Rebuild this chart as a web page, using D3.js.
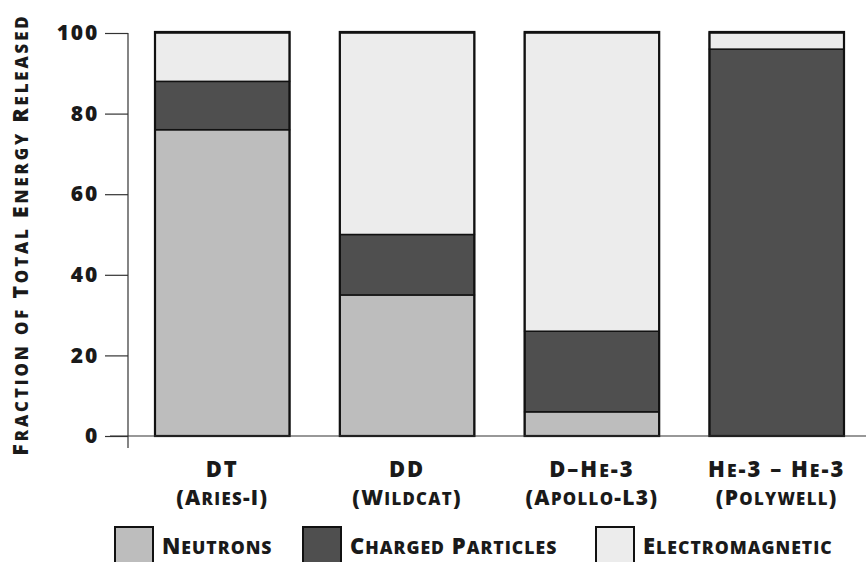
<!DOCTYPE html>
<html>
<head>
<meta charset="utf-8">
<script src="https://cdn.jsdelivr.net/npm/d3@7"></script>
<style>
  body { margin: 0; background: #fff; }
  text { font-family: "Open Sans", Lato, sans-serif; font-weight: 800; fill: #1a1a1a; }
</style>
</head>
<body>
<svg id="chart"></svg>
<script>
const categories = ["DT", "DD", "D\u2013He-3", "He-3 \u2013 He-3"];
const subLabels = ["(Aries-I)", "(Wildcat)", "(Apollo-L3)", "(Polywell)"];
const neutrons = [76, 35, 6, 0];
const charged = [12, 15, 20, 96];
const electromagnetic = [12, 50, 74, 4];
const seriesNames = ["Neutrons", "Charged Particles", "Electromagnetic"];
const yTicks = [0, 20, 40, 60, 80, 100];

const width = 866;
const height = 562;
const color = d3.scaleOrdinal(seriesNames, ["#bdbdbd", "#4f4f4f", "#ececec"]);

const svg = d3.select("#chart")
    .attr("width", width)
    .attr("height", height);

// draw text as small caps: lowercase runs become smaller capitals
function smallCaps(sel, str, size, ratio) {
    const runs = str.match(/[a-z]+|[^a-z]+/g) || [];
    sel.selectAll("tspan")
        .data(runs)
        .enter().append("tspan")
        .style("font-size", d => (/[a-z]/.test(d) ? size * ratio : size) + "px")
        .text(d => d.toUpperCase());
}

const x = d3.scaleBand()
    .domain(categories)
    .range([155, 844])
    .paddingInner(0.272)
    .paddingOuter(0);

const y = d3.scaleLinear()
    .domain([0, 100])
    .range([436, 33]);

const rows = categories.map((c, i) => ({
    cat: c,
    "Neutrons": neutrons[i],
    "Charged Particles": charged[i],
    "Electromagnetic": electromagnetic[i]
}));

const stacked = d3.stack().keys(seriesNames)(rows);

// bars
svg.append("g")
    .selectAll("g")
    .data(stacked)
    .enter().append("g")
    .attr("fill", d => color(d.key))
    .selectAll("rect")
    .data(d => d.filter(s => s[1] - s[0] > 0))
    .enter().append("rect")
    .attr("x", d => x(d.data.cat))
    .attr("y", d => y(d[1]))
    .attr("width", x.bandwidth())
    .attr("height", d => y(d[0]) - y(d[1]))
    .attr("stroke", "#111")
    .attr("stroke-width", 1.5);

// bar outlines
svg.append("g")
    .selectAll("rect")
    .data(categories)
    .enter().append("rect")
    .attr("x", d => x(d))
    .attr("y", y(100) - 1)
    .attr("width", x.bandwidth())
    .attr("height", y(0) - y(100) + 1)
    .attr("fill", "none")
    .attr("stroke", "#111")
    .attr("stroke-width", 2.2);

// y axis
const yAxis = d3.axisLeft(y)
    .tickValues(yTicks)
    .tickSize(23)
    .tickPadding(6)
    .tickSizeOuter(0);

const gy = svg.append("g")
    .attr("transform", "translate(128,0)")
    .call(yAxis);
gy.select(".domain").remove();
gy.selectAll(".tick line").attr("stroke", "#333").attr("stroke-width", 1.2);
gy.selectAll(".tick text")
    .style("font-family", "'Open Sans', sans-serif")
    .style("font-weight", "800")
    .style("font-size", "21px")
    .style("letter-spacing", "1.8px")
    .attr("fill", "#1a1a1a");

svg.append("line")
    .attr("x1", 128).attr("x2", 128)
    .attr("y1", y(100)).attr("y2", y(0) + 12)
    .attr("stroke", "#333").attr("stroke-width", 1.2);

svg.append("line")
    .attr("x1", 110).attr("x2", width)
    .attr("y1", y(0)).attr("y2", y(0))
    .attr("stroke", "#333").attr("stroke-width", 1.2);

// y title
svg.append("text")
    .attr("transform", `translate(28,${(y(0) + y(100)) / 2}) rotate(-90)`)
    .attr("text-anchor", "middle")
    .style("letter-spacing", "2.9px")
    .call(smallCaps, "Fraction of Total Energy Released", 21, 0.8);

// x labels
svg.append("g")
    .selectAll("text")
    .data(categories)
    .enter().append("text")
    .attr("x", d => x(d) + x.bandwidth() / 2)
    .attr("y", 477)
    .attr("text-anchor", "middle")
    .style("letter-spacing", "2px")
    .each(function(d) { d3.select(this).call(smallCaps, d, 22, 0.8); });

svg.append("g")
    .selectAll("text")
    .data(subLabels)
    .enter().append("text")
    .attr("x", (d, i) => x(categories[i]) + x.bandwidth() / 2)
    .attr("y", 505)
    .attr("text-anchor", "middle")
    .style("letter-spacing", "1.3px")
    .each(function(d) { d3.select(this).call(smallCaps, d, 21, 0.8); });

// legend
const legendX = [115, 303, 596];
const legend = svg.append("g")
    .selectAll("g")
    .data(seriesNames)
    .enter().append("g")
    .attr("transform", (d, i) => `translate(${legendX[i]},527)`);

legend.append("rect")
    .attr("width", 38)
    .attr("height", 45)
    .attr("fill", d => color(d))
    .attr("stroke", "#111")
    .attr("stroke-width", 2);

legend.append("text")
    .attr("x", 47)
    .attr("y", 27)
    .style("letter-spacing", "1px")
    .each(function(d) { d3.select(this).call(smallCaps, d, 22, 0.8); });
</script>
</body>
</html>
